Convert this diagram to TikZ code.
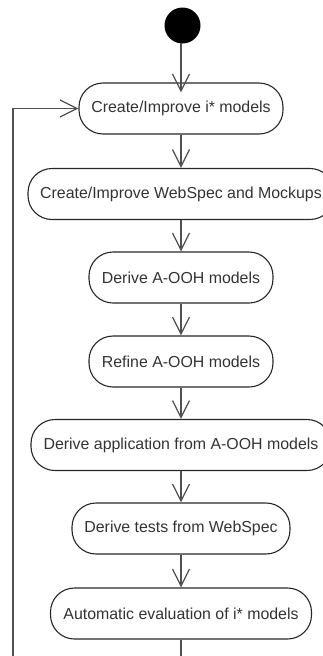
\documentclass[tikz,border=0pt]{standalone}
\usepackage{fontspec}
\setmainfont{Liberation Sans}
\usetikzlibrary{arrows.meta}
\definecolor{edgegray}{HTML}{505050}
\definecolor{boxline}{HTML}{262626}
\definecolor{labeltext}{HTML}{333333}
\begin{document}
\begin{tikzpicture}[x=1pt,y=-1pt,
  act/.style={draw=boxline, line width=1.1pt, rounded corners=24pt,
    minimum height=51pt, inner sep=0pt, text=labeltext,
    font=\fontsize{15.9}{18}\selectfont},
  flow/.style={draw=edgegray, line width=1.3pt,
    -{Straight Barb[length=17pt,width=17pt]}},
]
\useasboundingbox (0,0) rectangle (323,656);
\clip (0,0) rectangle (323,656);

% initial state
\node[circle, fill=black, minimum size=36pt, inner sep=0pt] (start) at (182.5,25.5) {};

% activities
\node[act, minimum width=204pt] (n1) at (181,108.5) {Create/Improve i* models};
\node[act, minimum width=306pt] (n2) at (181,194)   {Create/Improve WebSpec and Mockups};
\node[act, minimum width=184pt] (n3) at (181,277.5) {Derive A-OOH models};
\node[act, minimum width=184pt] (n4) at (181,361.5) {Refine A-OOH models};
\node[act, minimum width=300pt] (n5) at (181,445)   {Derive application from A-OOH models};
\node[act, minimum width=218pt] (n6) at (181,528.5) {Derive tests from WebSpec};
\node[act, minimum width=261pt] (n7) at (181,613.5) {Automatic evaluation of i* models};

% loop-back corners below the visible area
\coordinate (b1) at (181,680);
\coordinate (b2) at (13,680);

% control flow
\draw[flow] ([yshift=1pt]start.south -| n1.north) -- ([yshift=-10pt]n1.north);
\draw[flow] (n1) -- (n2);
\draw[flow] (n2) -- (n3);
\draw[flow] (n3) -- (n4);
\draw[flow] (n4) -- (n5);
\draw[flow] (n5) -- (n6);
\draw[flow] (n6) -- (n7);
\draw[flow] (n7) -- (b1) -- (b2) |- (n1.west);
\end{tikzpicture}
\end{document}
